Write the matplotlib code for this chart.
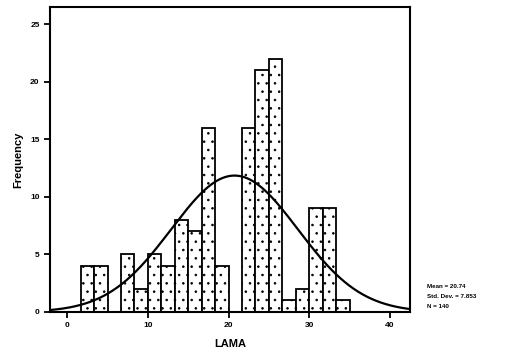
import numpy as np
import matplotlib
matplotlib.use("Agg")
import matplotlib.pyplot as plt

# histogram data
bin_start = 5 / 3
bin_width = 5 / 3
counts = [4, 4, 0, 5, 2, 5, 4, 8, 7, 16, 4, 0, 16, 21, 22, 1, 2, 9, 9, 1]
mean = 20.74
sd = 7.853
n = 140
stats_lines = ["Mean = 20.74", "Std. Dev. = 7.853", "N = 140"]
x_ticks = [0, 10, 20, 30, 40]
y_ticks = [0, 5, 10, 15, 20, 25]

plt.rcParams['font.family'] = ['Liberation Sans', 'DejaVu Sans']
plt.rcParams['hatch.linewidth'] = 0.6

fig = plt.figure(figsize=(5.06, 3.56), dpi=100)
ax = fig.add_axes([0.0988, 0.1236, 0.7115, 0.8567])

lefts = bin_start + bin_width * np.arange(len(counts))
ax.bar(lefts, counts, width=bin_width, align='edge', color='white',
       edgecolor='black', linewidth=1.3, hatch='..')

xs = np.linspace(-2.2, 42.6, 400)
ys = n * bin_width / (sd * np.sqrt(2 * np.pi)) * np.exp(-0.5 * ((xs - mean) / sd) ** 2)
ax.plot(xs, ys, color='black', linewidth=1.6)

ax.set_xlim(-2.14, 42.5)
ax.set_ylim(0, 26.5)
ax.set_xticks(x_ticks)
ax.set_yticks(y_ticks)
ax.tick_params(direction='out', length=4, width=1.3, labelsize=6)
for lab in ax.get_xticklabels() + ax.get_yticklabels():
    lab.set_fontweight('bold')
for s in ax.spines.values():
    s.set_linewidth(1.5)

ax.set_xlabel("LAMA", fontsize=8, fontweight='bold', labelpad=7)
ax.set_ylabel("Frequency", fontsize=8, fontweight='bold', labelpad=5)

for i, t in enumerate(stats_lines):
    fig.text(0.843, 0.195 - i * 0.028, t, fontsize=4.5, fontweight='bold', va='center')

fig.savefig("out.png", dpi=100)
